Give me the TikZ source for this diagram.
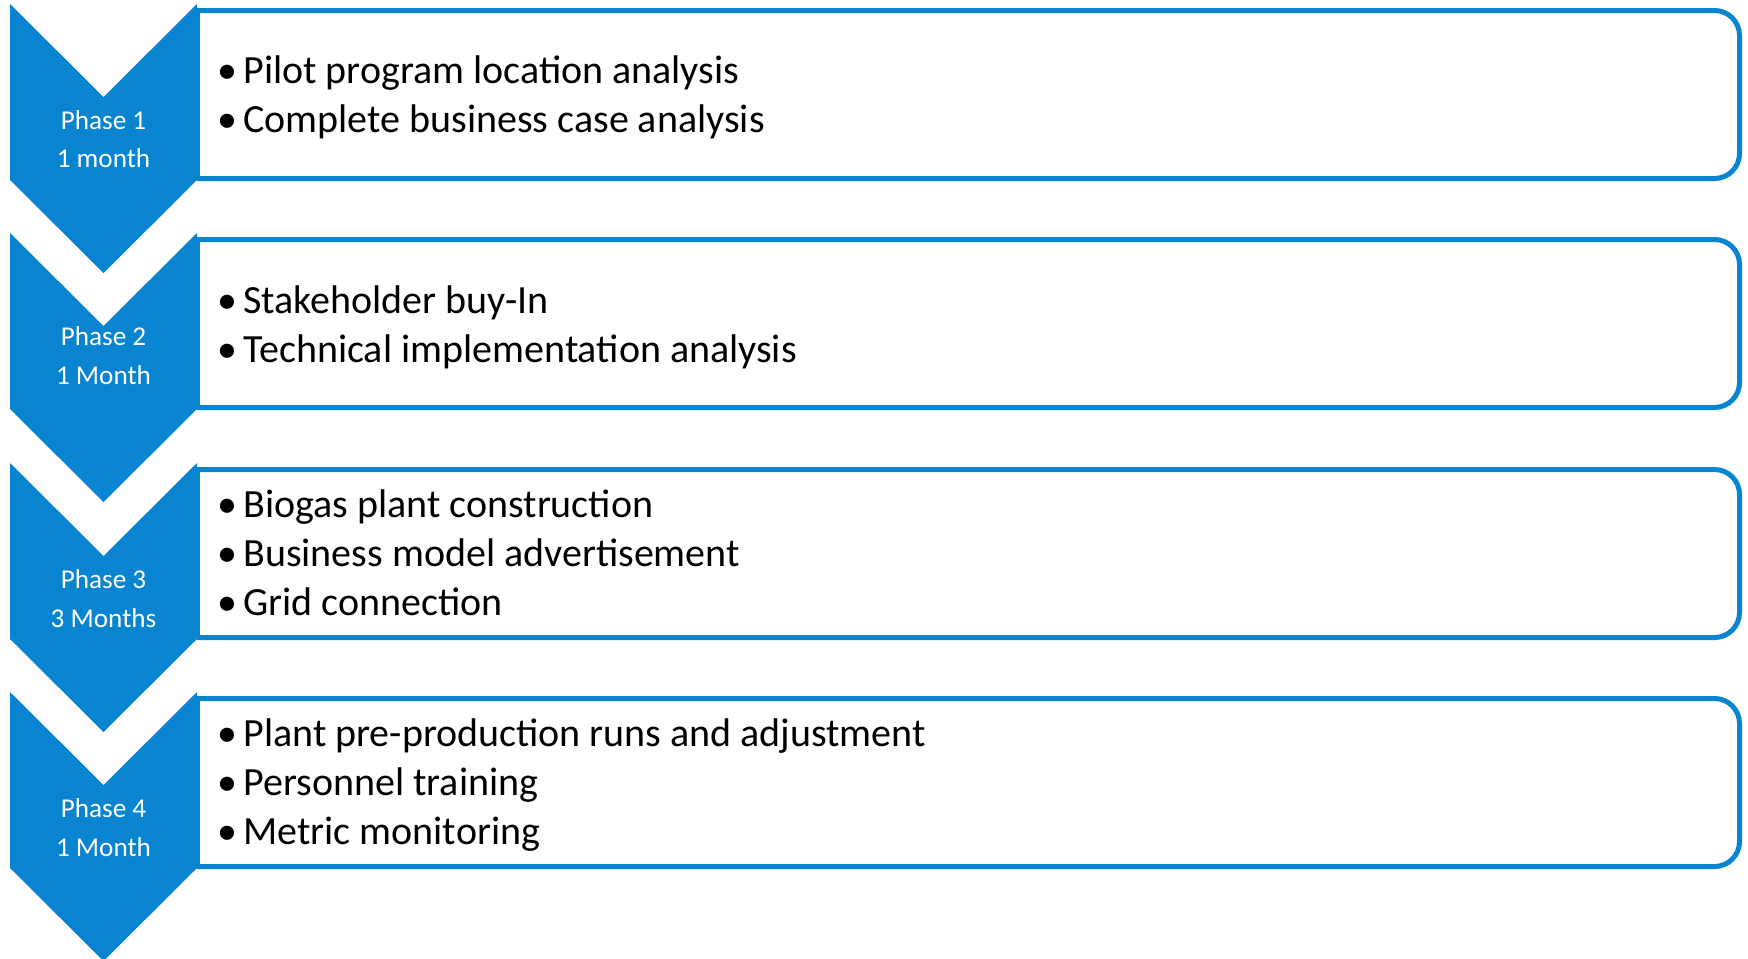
\documentclass[tikz,border=0pt]{standalone}
\usepackage{fontspec}
\setmainfont{Carlito}
\definecolor{phaseblue}{RGB}{8,132,208}
\newcommand\bul[1]{\llap{\textbullet\hspace{3pt}}#1}

\begin{document}
\begin{tikzpicture}[x=.5pt,y=-.5pt,
  chev/.style={fill=phaseblue},
  phasebox/.style={draw=phaseblue,line width=2.5pt,rounded corners=12.5pt},
  phase/.style={text=white,font=\fontsize{13.6}{19.25}\selectfont,align=center,anchor=base,inner sep=0pt},
  tasks/.style={font=\fontsize{20}{24.5}\selectfont,align=left,anchor=base west,inner sep=0pt}]
\useasboundingbox (0,0) rectangle (1748,958);

% boxes
\draw[phasebox] (197,10.5) -- (1739.5,10.5) -- (1739.5,178.5) -- (197,178.5);
\draw[phasebox] (197,10.5) -- (197,178.5);
\draw[phasebox] (197,239.5) -- (1739.5,239.5) -- (1739.5,407.5) -- (197,407.5);
\draw[phasebox] (197,239.5) -- (197,407.5);
\draw[phasebox] (197,469.5) -- (1739.5,469.5) -- (1739.5,637.5) -- (197,637.5);
\draw[phasebox] (197,469.5) -- (197,637.5);
\draw[phasebox] (197,698.5) -- (1739.5,698.5) -- (1739.5,866.5) -- (197,866.5);
\draw[phasebox] (197,698.5) -- (197,866.5);

% chevrons
\fill[chev] (10,4) -- (103.5,97) -- (197,4) -- (197,180) -- (103.5,273) -- (10,180) -- cycle;
\fill[chev] (10,233) -- (103.5,326) -- (197,233) -- (197,409) -- (103.5,502) -- (10,409) -- cycle;
\fill[chev] (10,463) -- (103.5,556) -- (197,463) -- (197,639) -- (103.5,732) -- (10,639) -- cycle;
\fill[chev] (10,692) -- (103.5,785) -- (197,692) -- (197,868) -- (103.5,961) -- (10,868) -- cycle;

% phase labels (base = last line)
\node[phase] (p1) at (103.5,167.5) {Phase 1\\1 month};
\node[phase] (p2) at (103.5,384) {Phase 2\\1 Month};
\node[phase] (p3) at (103.5,627) {Phase 3\\3 Months};
\node[phase] (p4) at (103.5,856) {Phase 4\\1 Month};

% tasks
\node[tasks] (t1) at (243,132) {\bul{Pilot program location analysis}\\
  \bul{Complete business case analysis}};
\node[tasks] (t2) at (243,362) {\bul{Stakeholder buy-In}\\
  \bul{Technical implementation analysis}};
\node[tasks] (t3) at (243,615) {\bul{Biogas plant construction}\\
  \bul{Business model advertisement}\\
  \bul{Grid connection}};
\node[tasks] (t4) at (243,844) {\bul{Plant pre-production runs and adjustment}\\
  \bul{Personnel training}\\
  \bul{Metric monitoring}};
\end{tikzpicture}
\end{document}
